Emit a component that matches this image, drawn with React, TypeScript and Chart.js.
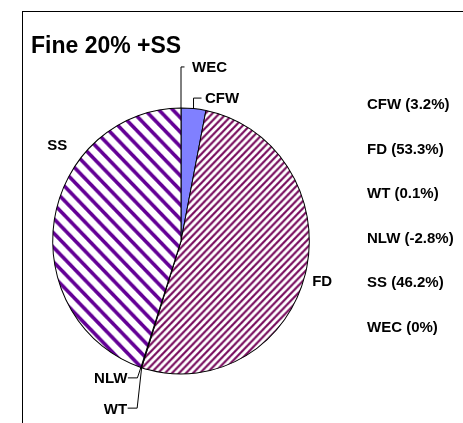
import React, { useEffect, useRef } from "react";
import { Chart, registerables } from "chart.js";

Chart.register(...registerables);

// ---- data ----
const TITLE = "Fine 20% +SS";
const CATEGORIES = ["CFW", "FD", "WT", "NLW", "SS", "WEC"];
const VALUES = [3.2, 53.3, 0.1, -2.8, 46.2, 0];

// ---- style ----
const FONT = "\"Liberation Sans\", Arial, sans-serif";
const CFW_COLOR = "#8080FF";
const FD_COLOR = "#7A1060";
const SS_COLOR = "#640096";
const Y_STRETCH = 1.037;

function hexToRgb(h: string) {
  const n = parseInt(h.slice(1), 16);
  return [(n >> 16) & 255, (n >> 8) & 255, n & 255];
}

function makeStripes(color: string, period: number, width: number, dir: number) {
  const c = document.createElement("canvas");
  c.width = period;
  c.height = period;
  const g = c.getContext("2d")!;
  const img = g.createImageData(period, period);
  const [r, gg, b] = hexToRgb(color);
  const S = 4;
  for (let y = 0; y < period; y++) {
    for (let x = 0; x < period; x++) {
      let cov = 0;
      for (let sy = 0; sy < S; sy++) {
        for (let sx = 0; sx < S; sx++) {
          const px = x + (sx + 0.5) / S;
          const py = y + (sy + 0.5) / S;
          const t = dir > 0 ? px + py : px - py;
          const m = ((t % period) + period) % period;
          if (m < width) cov++;
        }
      }
      cov /= S * S;
      const i = (y * period + x) * 4;
      img.data[i] = Math.round(255 * (1 - cov) + r * cov);
      img.data[i + 1] = Math.round(255 * (1 - cov) + gg * cov);
      img.data[i + 2] = Math.round(255 * (1 - cov) + b * cov);
      img.data[i + 3] = 255;
    }
  }
  g.putImageData(img, 0, 0);
  return g.createPattern(c, "repeat")!;
}

function edgePoint(arc: any, angle: number) {
  const r = arc.outerRadius;
  return {
    x: arc.x + r * Math.cos(angle),
    y: arc.y + Y_STRETCH * r * Math.sin(angle),
  };
}

const ellipsePlugin = {
  id: "ellipse",
  beforeDatasetsDraw(chart: any) {
    const arc = chart.getDatasetMeta(0).data[0];
    const ctx = chart.ctx;
    ctx.save();
    ctx.translate(arc.x, arc.y);
    ctx.scale(1, Y_STRETCH);
    ctx.translate(-arc.x, -arc.y);
  },
  afterDatasetsDraw(chart: any) {
    chart.ctx.restore();
  },
};

const labelsPlugin = {
  id: "labels",
  afterDraw(chart: any) {
    const ctx = chart.ctx;
    const arcs = chart.getDatasetMeta(0).data;
    ctx.save();
    ctx.fillStyle = "#000";
    ctx.strokeStyle = "#000";
    ctx.lineWidth = 1;
    ctx.textBaseline = "alphabetic";

    // title
    ctx.font = "bold 23px " + FONT;
    ctx.textAlign = "left";
    ctx.fillText(TITLE, 31, 52.7);

    // legend text (right column)
    ctx.font = "bold 15px " + FONT;
    CATEGORIES.forEach((cat, i) => {
      ctx.fillText(`${cat} (${VALUES[i]}%)`, 367, 109.3 + 44.5 * i);
    });

    const line = (pts: number[][]) => {
      ctx.beginPath();
      ctx.moveTo(pts[0][0], pts[0][1]);
      for (let k = 1; k < pts.length; k++) ctx.lineTo(pts[k][0], pts[k][1]);
      ctx.stroke();
    };

    // CFW label (index 0)
    {
      const a = arcs[0];
      const p = edgePoint(a, (a.startAngle + a.endAngle) / 2);
      line([[p.x, p.y], [p.x, p.y - 10.5], [p.x + 8, p.y - 10.5]]);
      ctx.textAlign = "left";
      ctx.fillText(CATEGORIES[0], p.x + 11.5, p.y - 10.5 + 5.4);
    }
    // FD label (index 1)
    {
      const a = arcs[1];
      const p = edgePoint(a, (a.startAngle + a.endAngle) / 2);
      ctx.textAlign = "left";
      ctx.fillText(CATEGORIES[1], p.x + 7, p.y + 6.5 + 5.4);
    }
    // WT label (index 2)
    {
      const a = arcs[2];
      const p = edgePoint(a, a.startAngle);
      const ly = p.y + 40.5;
      line([[p.x, p.y], [p.x - 4.5, ly], [p.x - 14, ly]]);
      ctx.textAlign = "right";
      ctx.fillText(CATEGORIES[2], p.x - 14.5, ly + 5.4);
    }
    // NLW label (index 3)
    {
      const a = arcs[3];
      const p = edgePoint(a, a.startAngle);
      const ly = p.y + 10.5;
      line([[p.x, p.y], [p.x - 3.5, ly], [p.x - 13, ly]]);
      ctx.textAlign = "right";
      ctx.fillText(CATEGORIES[3], p.x - 13.5, ly + 5.4);
    }
    // SS label (index 4)
    {
      const a = arcs[4];
      const p = edgePoint(a, (a.startAngle + a.endAngle) / 2);
      ctx.textAlign = "left";
      ctx.fillText(CATEGORIES[4], p.x - 7, p.y - 75 + 5.4);
    }
    // WEC label (index 5)
    {
      const a = arcs[5];
      const p = edgePoint(a, a.endAngle);
      line([[p.x, p.y], [p.x, p.y - 41], [p.x + 3.5, p.y - 41]]);
      ctx.textAlign = "left";
      ctx.fillText(CATEGORIES[5], p.x + 11, p.y - 41 + 5.4);
    }
    ctx.restore();
  },
};

export default function App() {
  const ref = useRef<HTMLCanvasElement | null>(null);
  useEffect(() => {
    if (!ref.current) return;
    const fdPat = makeStripes(FD_COLOR, 7, 3, 1);
    const ssPat = makeStripes(SS_COLOR, 14, 5, -1);
    const chart = new Chart(ref.current, {
      type: "pie",
      data: {
        labels: CATEGORIES,
        datasets: [
          {
            data: VALUES.map((v) => Math.max(v, 0)),
            backgroundColor: [CFW_COLOR, fdPat, "#ffffff", "#ffffff", ssPat, "#ffffff"] as any,
            borderColor: "#000",
            borderWidth: 1,
            radius: 128.3,
          } as any,
        ],
      },
      options: {
        animation: false,
        responsive: false,
        layout: { padding: { left: 52, top: 112, right: 153, bottom: 53 } },
        plugins: {
          legend: { display: false },
          tooltip: { enabled: false },
          title: { display: false },
        },
        events: [],
      },
      plugins: [ellipsePlugin, labelsPlugin],
    });
    return () => chart.destroy();
  }, []);

  return (
    <div
      style={{
        position: "absolute",
        left: 0,
        top: 0,
        width: 463,
        height: 423,
        overflow: "hidden",
        background: "#fff",
      }}
    >
      <div
        style={{
          position: "absolute",
          left: 22,
          top: 11,
          width: 600,
          height: 600,
          border: "1px solid #000",
          boxSizing: "border-box",
        }}
      />
      <canvas
        ref={ref}
        width={463}
        height={423}
        style={{ position: "absolute", left: 0, top: 0, display: "block" }}
      />
    </div>
  );
}
